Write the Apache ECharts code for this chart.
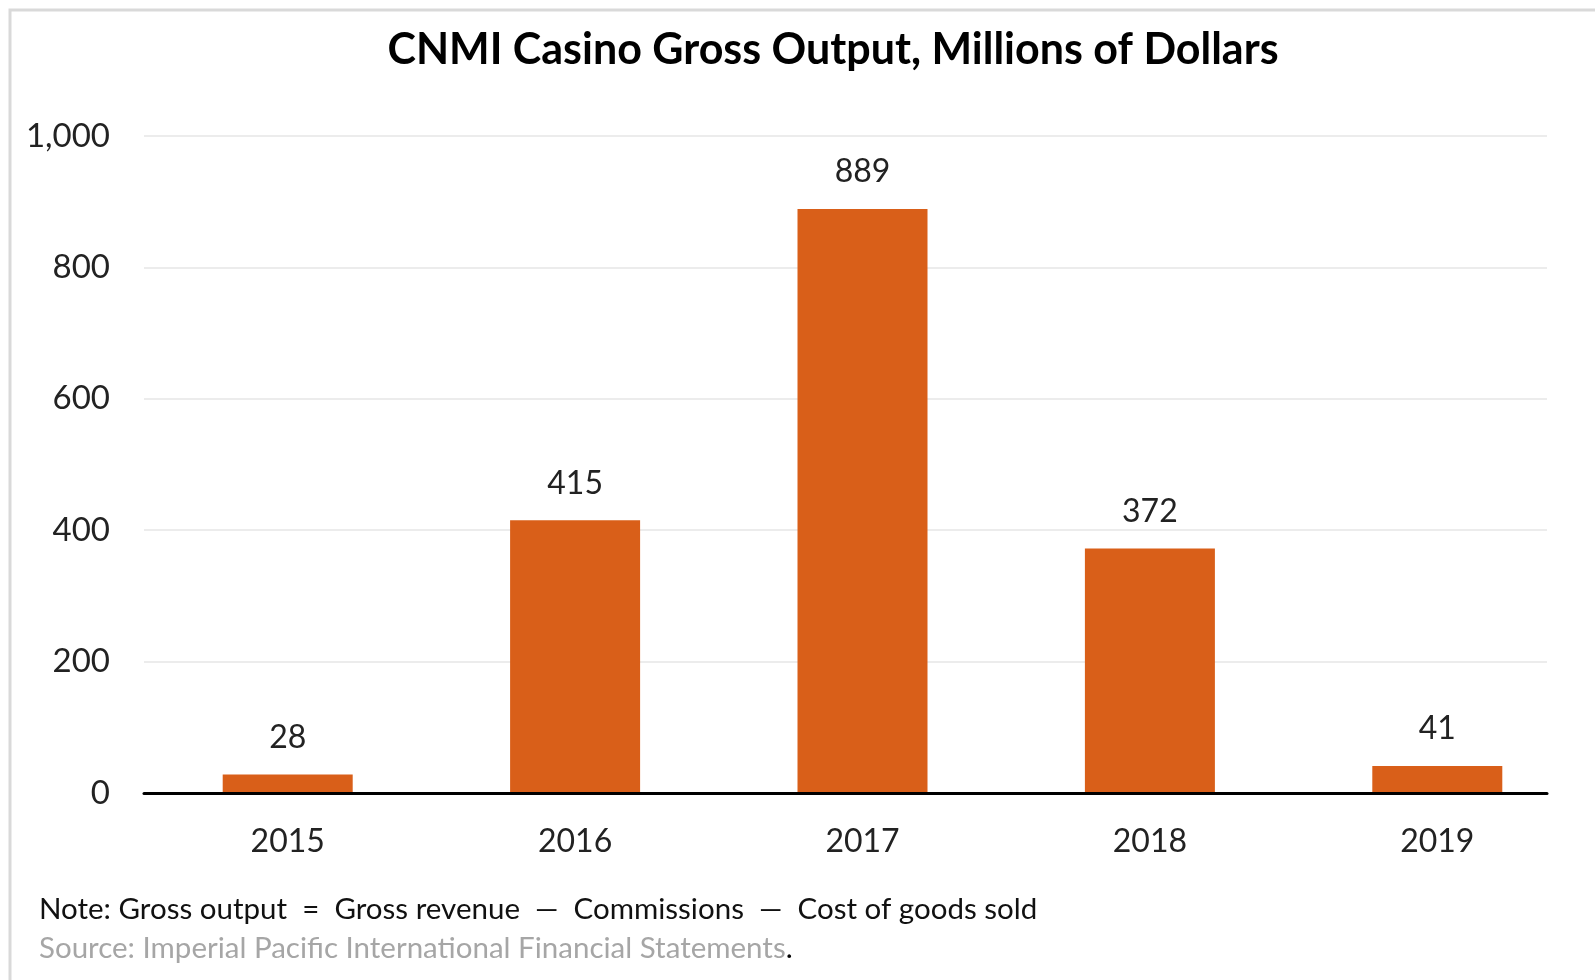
<!DOCTYPE html>
<html>
<head>
<meta charset="utf-8">
<script src="https://cdn.jsdelivr.net/npm/echarts@6/dist/echarts.min.js"></script>
<style>
html,body{margin:0;padding:0;background:#fff;}
#c{width:1595px;height:980px;}
</style>
</head>
<body>
<div id="c"></div>
<script>
const categories = ['2015', '2016', '2017', '2018', '2019'];
const grossOutput = [28, 415, 889, 372, 41];
const yTicks = [0, 200, 400, 600, 800, 1000];
const titleText = 'CNMI Casino Gross Output, Millions of Dollars';
const noteText = 'Note: Gross output  =  Gross revenue  \u2014  Commissions  \u2014  Cost of goods sold';
const sourceText = 'Source: Imperial Pacific International Financial Statements';

const FONT = 'Lato, "Noto Sans", sans-serif';
const chart = echarts.init(document.getElementById('c'));
chart.setOption({
  backgroundColor: '#ffffff',
  animation: false,
  title: {
    text: titleText,
    left: 828,
    top: 24,
    textAlign: 'center',
    textStyle: {fontFamily: FONT, fontWeight: 'bold', fontSize: 43, color: '#000000'}
  },
  graphic: [
    {type: 'rect', shape: {x: 10, y: 10, width: 1600, height: 1000}, style: {fill: 'none', stroke: '#d9d9d9', lineWidth: 3}, silent: true},
    {type: 'text', left: 39, top: 894, style: {text: noteText, fontFamily: FONT, fontSize: 29.5, fill: '#111111'}},
    {type: 'text', left: 39, top: 933, style: {
      text: '{g|' + sourceText + '}{k|.}',
      rich: {
        g: {fontFamily: FONT, fontSize: 29.5, fill: '#a6a6a6', color: '#a6a6a6'},
        k: {fontFamily: FONT, fontSize: 29.5, fill: '#000000', color: '#000000'}
      }
    }}
  ],
  grid: [
    {left: 144, right: 48, top: 136, bottom: 187},
    {left: 144, right: 14, top: 136, bottom: 187}
  ],
  xAxis: [
    {type: 'category', gridIndex: 0, data: categories, z: 5,
      axisLine: {lineStyle: {color: '#000000', width: 3}},
      axisTick: {show: false}, axisLabel: {show: false}, splitLine: {show: false}},
    {type: 'category', gridIndex: 1, data: categories,
      axisLine: {show: false}, axisTick: {show: false},
      axisLabel: {margin: 33, fontFamily: FONT, fontSize: 32, color: '#222222'}}
  ],
  yAxis: [
    {type: 'value', gridIndex: 0, min: 0, max: 1000, interval: 200,
      axisLine: {show: false}, axisTick: {show: false},
      axisLabel: {margin: 34, fontFamily: FONT, fontSize: 33, color: '#222222',
        formatter: v => yTicks.includes(v) ? v.toLocaleString('en-US') : ''},
      splitLine: {lineStyle: {color: '#ececec', width: 2}}},
    {type: 'value', gridIndex: 1, min: 0, max: 1000, interval: 200, show: false, splitLine: {show: false}}
  ],
  series: [{
    type: 'bar',
    xAxisIndex: 1, yAxisIndex: 1,
    data: grossOutput,
    barWidth: 130,
    itemStyle: {color: '#D95F19'},
    label: {show: true, position: 'top', distance: 21, fontFamily: FONT, fontSize: 32, color: '#222222'}
  }]
});
</script>
</body>
</html>
